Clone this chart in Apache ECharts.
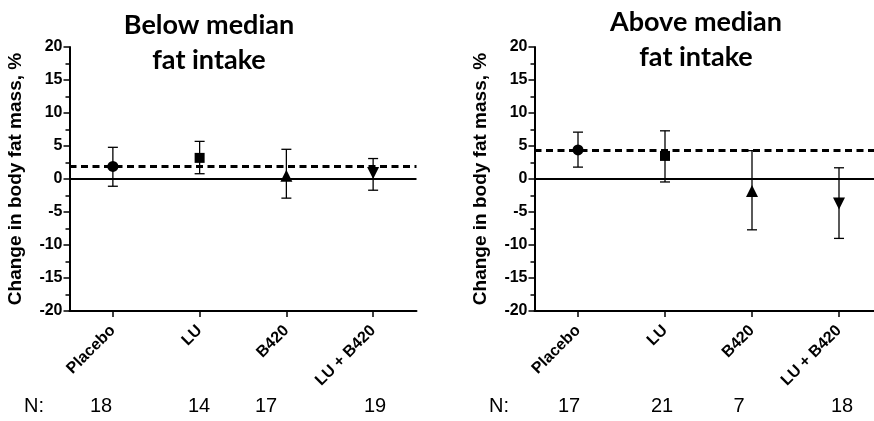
<!DOCTYPE html>
<html>
<head>
<meta charset="utf-8">
<title>Change in body fat mass</title>
<script src="https://cdn.jsdelivr.net/npm/echarts@6/dist/echarts.min.js"></script>
<style>
  html, body { margin: 0; padding: 0; background: #fff; }
  #chart { width: 874px; height: 421px; }
</style>
</head>
<body>
<div id="chart"></div>
<script>
// groups and values (mean, error bar ends), % change
var groups = ['Placebo', 'LU', 'B420', 'LU + B420'];

var belowMean  = [1.9, 3.2, 0.5, 0.9];
var belowUpper = [4.8, 5.7, 4.5, 3.1];
var belowLower = [-1.1, 0.8, -2.9, -1.7];
var belowN     = [18, 14, 17, 19];
var belowRef   = 1.9;

var aboveMean  = [4.4, 3.5, -1.8, -3.7];
var aboveUpper = [7.1, 7.3, 4.3, 1.7];
var aboveLower = [1.8, -0.45, -7.7, -9.0];
var aboveN     = [17, 21, 7, 18];
var aboveRef   = 4.3;

var yMin = -20, yMax = 20, yStep = 5;

// marker look per group
var symbols   = ['circle', 'rect', 'triangle', 'triangle'];
var rotations = [0, 0, 0, 180];
var sizes     = [11, 10, 12, 12];

var chart = echarts.init(document.getElementById('chart'));

function errorBar(params, api) {
    var x = api.value(0);
    var lo = api.coord([x, api.value(1)]);
    var hi = api.coord([x, api.value(2)]);
    var half = 5;
    var style = { stroke: '#000', lineWidth: 1.3 };
    return {
        type: 'group',
        children: [
            { type: 'line', shape: { x1: lo[0], y1: lo[1], x2: hi[0], y2: hi[1] }, style: style },
            { type: 'line', shape: { x1: lo[0] - half, y1: lo[1], x2: lo[0] + half, y2: lo[1] }, style: style },
            { type: 'line', shape: { x1: hi[0] - half, y1: hi[1], x2: hi[0] + half, y2: hi[1] }, style: style }
        ]
    };
}

function xAxisFor(idx) {
    return {
        type: 'category',
        gridIndex: idx,
        data: groups,
        boundaryGap: true,
        axisLine: { show: true, onZero: false, lineStyle: { color: '#000', width: 2 } },
        axisTick: { show: true, alignWithLabel: true, length: 6, lineStyle: { color: '#000', width: 1.5 } },
        axisLabel: {
            rotate: 45, margin: 17, color: '#000',
            fontFamily: 'Liberation Sans', fontWeight: 'bold', fontSize: 16
        },
        splitLine: { show: false }
    };
}

function yAxisFor(idx) {
    return {
        type: 'value',
        gridIndex: idx,
        min: yMin, max: yMax, interval: yStep,
        name: 'Change in body fat mass, %',
        nameLocation: 'middle',
        nameRotate: 90,
        nameGap: 44,
        nameTextStyle: { color: '#000', fontFamily: 'Liberation Sans', fontWeight: 'bold', fontSize: 19 },
        axisLine: { show: true, onZero: false, lineStyle: { color: '#000', width: 2 } },
        axisTick: { show: true, length: 6, lineStyle: { color: '#000', width: 1.5 } },
        minorTick: { show: true, splitNumber: 2, length: 4, lineStyle: { color: '#000', width: 1.5 } },
        axisLabel: { margin: 7, color: '#000', fontFamily: 'Liberation Sans', fontWeight: 'bold', fontSize: 16 },
        splitLine: { show: false },
        minorSplitLine: { show: false }
    };
}

function barsFor(idx, lower, upper) {
    return {
        type: 'custom',
        xAxisIndex: idx, yAxisIndex: idx,
        renderItem: errorBar,
        encode: { x: 0, y: [1, 2] },
        data: groups.map(function (g, i) { return [i, lower[i], upper[i]]; }),
        z: 3,
        silent: true
    };
}

function meansFor(idx, mean, ref) {
    return {
        type: 'scatter',
        xAxisIndex: idx, yAxisIndex: idx,
        data: mean.map(function (v, i) {
            return { value: [i, v], symbol: symbols[i], symbolRotate: rotations[i], symbolSize: sizes[i] };
        }),
        itemStyle: { color: '#000', opacity: 1 },
        z: 4,
        silent: true,
        markLine: {
            silent: true,
            symbol: 'none',
            label: { show: false },
            animation: false,
            data: [
                { yAxis: 0, lineStyle: { color: '#000', width: 2, type: 'solid' } },
                { yAxis: ref, lineStyle: { color: '#000', width: 3, type: [7, 4.5] } }
            ]
        }
    };
}

var titleFont = { fontFamily: 'Lato', fontWeight: 'bold', fontSize: 27, lineHeight: 35, fill: '#000', textAlign: 'center' };
var nFont = { fontFamily: 'Liberation Sans', fontSize: 20, fill: '#000', textAlign: 'center', textVerticalAlign: 'middle' };

// where the N row sits under each panel
var belowNX = [101, 199, 266, 375];
var aboveNX = [569, 662, 739, 842];

var graphics = [
    { type: 'text', x: 209, y: 8, style: Object.assign({ text: 'Below median\nfat intake' }, titleFont) },
    { type: 'text', x: 696, y: 5, style: Object.assign({ text: 'Above median\nfat intake' }, titleFont) },
    { type: 'text', x: 34, y: 406, style: Object.assign({ text: 'N:' }, nFont) },
    { type: 'text', x: 499, y: 406, style: Object.assign({ text: 'N:' }, nFont) }
];
belowN.forEach(function (n, i) {
    graphics.push({ type: 'text', x: belowNX[i], y: 406, style: Object.assign({ text: String(n) }, nFont) });
});
aboveN.forEach(function (n, i) {
    graphics.push({ type: 'text', x: aboveNX[i], y: 406, style: Object.assign({ text: String(n) }, nFont) });
});

var option = {
    backgroundColor: '#fff',
    animation: false,
    grid: [
        { left: 69.5, top: 47, width: 347, height: 264, containLabel: false, outerBoundsMode: 'none' },
        { left: 534.5, top: 47, width: 348, height: 264, containLabel: false, outerBoundsMode: 'none' }
    ],
    xAxis: [xAxisFor(0), xAxisFor(1)],
    yAxis: [yAxisFor(0), yAxisFor(1)],
    series: [
        barsFor(0, belowLower, belowUpper),
        meansFor(0, belowMean, belowRef),
        barsFor(1, aboveLower, aboveUpper),
        meansFor(1, aboveMean, aboveRef)
    ],
    graphic: graphics
};

chart.setOption(option);
</script>
</body>
</html>
